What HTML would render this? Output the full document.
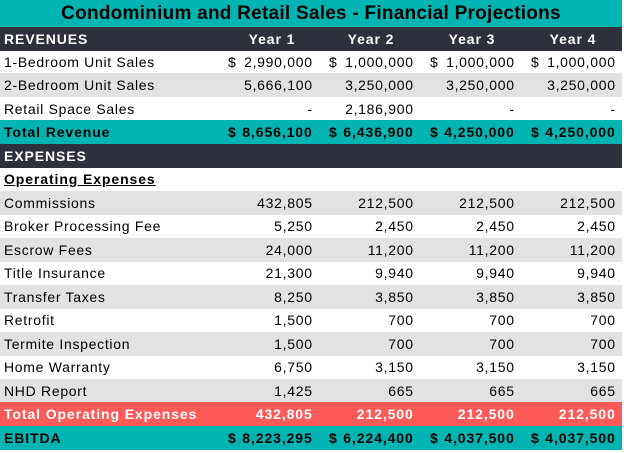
<!DOCTYPE html>
<html><head><style>
body{margin:0;background:#fff;width:624px;height:453px;overflow:hidden;font-family:"Liberation Sans",Arial,sans-serif;}
.t{position:absolute;left:0;top:0;width:622px;height:27px;background:#00B5B1;color:#000;font-weight:bold;font-size:19px;text-align:center;line-height:28px;letter-spacing:0.25px;}
.r{position:absolute;left:0;width:622px;height:24px;font-size:14px;line-height:24px;color:#000;letter-spacing:0.7px;}
.r div{position:absolute;top:0;height:24px;}
.l{left:4px;}
.c{display:flex;justify-content:space-between;}
.c span:last-child{margin-right:-0.7px}
.c1{left:228px;width:84px}.c2{left:329px;width:84px}.c3{left:430px;width:84px}.c4{left:531px;width:84px}
.g{background:#E1E2E4}.d{background:#2E313C;color:#fff;font-weight:bold}.k{background:#00B5B1;font-weight:bold}.x{background:#FF5A5A;color:#fff;font-weight:bold}
.d,.k,.x,.b{letter-spacing:0.9px}
.h{justify-content:center;}
.b{font-weight:bold}
</style></head><body>
<div class="t">Condominium and Retail Sales - Financial Projections</div>
<div class="r d" style="top:27px"><div class="l">REVENUES</div><div class="c c1 h" style="left:230px">Year 1</div><div class="c c2 h">Year 2</div><div class="c c3 h">Year 3</div><div class="c c4 h">Year 4</div></div>
<div class="r" style="top:50px"><div class="l">1-Bedroom Unit Sales</div><div class="c c1"><span>$</span><span>2,990,000</span></div><div class="c c2"><span>$</span><span>1,000,000</span></div><div class="c c3"><span>$</span><span>1,000,000</span></div><div class="c c4"><span>$</span><span>1,000,000</span></div></div>
<div class="r g" style="top:73px"><div class="l">2-Bedroom Unit Sales</div><div class="c c1"><span></span><span>5,666,100</span></div><div class="c c2"><span></span><span>3,250,000</span></div><div class="c c3"><span></span><span>3,250,000</span></div><div class="c c4"><span></span><span>3,250,000</span></div></div>
<div class="r" style="top:97px"><div class="l">Retail Space Sales</div><div class="c c1"><span></span><span>-</span></div><div class="c c2"><span></span><span>2,186,900</span></div><div class="c c3"><span></span><span>-</span></div><div class="c c4"><span></span><span>-</span></div></div>
<div class="r k" style="top:120px"><div class="l">Total Revenue</div><div class="c c1"><span>$</span><span>8,656,100</span></div><div class="c c2"><span>$</span><span>6,436,900</span></div><div class="c c3"><span>$</span><span>4,250,000</span></div><div class="c c4"><span>$</span><span>4,250,000</span></div></div>
<div class="r d" style="top:144px"><div class="l">EXPENSES</div></div>
<div class="r" style="top:167px"><div class="l b" style="text-decoration:underline">Operating Expenses</div></div>
<div class="r g" style="top:191px"><div class="l">Commissions</div><div class="c c1"><span></span><span>432,805</span></div><div class="c c2"><span></span><span>212,500</span></div><div class="c c3"><span></span><span>212,500</span></div><div class="c c4"><span></span><span>212,500</span></div></div>
<div class="r" style="top:214px"><div class="l">Broker Processing Fee</div><div class="c c1"><span></span><span>5,250</span></div><div class="c c2"><span></span><span>2,450</span></div><div class="c c3"><span></span><span>2,450</span></div><div class="c c4"><span></span><span>2,450</span></div></div>
<div class="r g" style="top:238px"><div class="l">Escrow Fees</div><div class="c c1"><span></span><span>24,000</span></div><div class="c c2"><span></span><span>11,200</span></div><div class="c c3"><span></span><span>11,200</span></div><div class="c c4"><span></span><span>11,200</span></div></div>
<div class="r" style="top:261px"><div class="l">Title Insurance</div><div class="c c1"><span></span><span>21,300</span></div><div class="c c2"><span></span><span>9,940</span></div><div class="c c3"><span></span><span>9,940</span></div><div class="c c4"><span></span><span>9,940</span></div></div>
<div class="r g" style="top:285px"><div class="l">Transfer Taxes</div><div class="c c1"><span></span><span>8,250</span></div><div class="c c2"><span></span><span>3,850</span></div><div class="c c3"><span></span><span>3,850</span></div><div class="c c4"><span></span><span>3,850</span></div></div>
<div class="r" style="top:308px"><div class="l">Retrofit</div><div class="c c1"><span></span><span>1,500</span></div><div class="c c2"><span></span><span>700</span></div><div class="c c3"><span></span><span>700</span></div><div class="c c4"><span></span><span>700</span></div></div>
<div class="r g" style="top:332px"><div class="l">Termite Inspection</div><div class="c c1"><span></span><span>1,500</span></div><div class="c c2"><span></span><span>700</span></div><div class="c c3"><span></span><span>700</span></div><div class="c c4"><span></span><span>700</span></div></div>
<div class="r" style="top:355px"><div class="l">Home Warranty</div><div class="c c1"><span></span><span>6,750</span></div><div class="c c2"><span></span><span>3,150</span></div><div class="c c3"><span></span><span>3,150</span></div><div class="c c4"><span></span><span>3,150</span></div></div>
<div class="r g" style="top:379px"><div class="l">NHD Report</div><div class="c c1"><span></span><span>1,425</span></div><div class="c c2"><span></span><span>665</span></div><div class="c c3"><span></span><span>665</span></div><div class="c c4"><span></span><span>665</span></div></div>
<div class="r x" style="top:402px"><div class="l">Total Operating Expenses</div><div class="c c1"><span></span><span>432,805</span></div><div class="c c2"><span></span><span>212,500</span></div><div class="c c3"><span></span><span>212,500</span></div><div class="c c4"><span></span><span>212,500</span></div></div>
<div class="r k" style="top:426px"><div class="l">EBITDA</div><div class="c c1"><span>$</span><span>8,223,295</span></div><div class="c c2"><span>$</span><span>6,224,400</span></div><div class="c c3"><span>$</span><span>4,037,500</span></div><div class="c c4"><span>$</span><span>4,037,500</span></div></div>
</body></html>
